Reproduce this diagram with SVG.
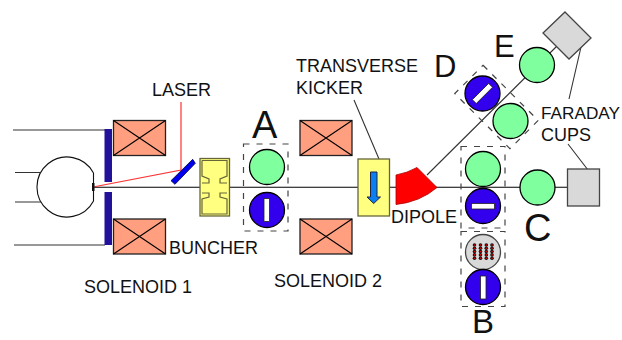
<svg xmlns="http://www.w3.org/2000/svg" width="622" height="340" viewBox="0 0 622 340">
<style>
text{font-family:"Liberation Sans",Arial,sans-serif;fill:#111}
.s{font-size:18px}
.f{font-size:17.200px}
.b{font-size:38px}
.m{font-size:31px}
.n{font-size:33px}
.l{fill:none;stroke:#000;stroke-width:1.1}
.gl{fill:none;stroke:#333;stroke-width:1.1}
.coil{fill:#ff9f80;stroke:#222;stroke-width:1.3}
.dash{fill:none;stroke:#444;stroke-width:1.2;stroke-dasharray:6 7}
.g{fill:#80ff9f;stroke:#000;stroke-width:1.3}
.v{fill:#3300ee;stroke:#000;stroke-width:1.3}
.w{fill:#fff;stroke:#222;stroke-width:.8}
.gr{fill:#d9d9d9;stroke:#444;stroke-width:1.3}
.y{fill:#ffff80;stroke:#66663a;stroke-width:1.3}
.p{fill:#221199}
.d{fill:#111}
.r{fill:#e00}
</style>
<defs>
<g id="cx"><rect class="coil" width="52" height="35"/><path class="l" d="M0 0L52 35M0 35L52 0"/></g>
<g id="h"><circle class="d" r="1.800"/><circle class="r" r=".8"/></g>
<g id="col"><use href="#h" y="0"/><use href="#h" y="3.300"/><use href="#h" y="6.600"/><use href="#h" y="9.900"/><use href="#h" y="13.200"/></g>
</defs>
<g id="connectors">
<path class="l" d="M93 187.300H567"/>
<path class="gl" d="M13 130H105M15 172.500H40M15 202H41M14 245H105"/>
<path class="gl" d="M427 175L557 46"/>
<path class="gl" d="M354 100L379 159M581 47L569 99M568 144L588 170"/>
<path d="M181 102V170L93 187" fill="none" stroke="#f33" stroke-width="1.200"/>
</g>
<g id="gun">
<path d="M93.500 173A30 30 0 1 0 93.500 201V173" fill="#fff" stroke="#111" stroke-width="1.100"/>
<rect x="92" y="183" width="2.500" height="8" fill="#111"/>
</g>
<g id="cathode"><rect class="p" x="104.500" y="129" width="7.500" height="53"/><rect class="p" x="104.500" y="192" width="7.500" height="53"/></g>
<g id="coil1"><use href="#cx" x="113.500" y="120.500"/></g>
<g id="coil2"><use href="#cx" x="113.500" y="219"/></g>
<g id="coil3"><use href="#cx" x="300" y="120.500"/></g>
<g id="coil4"><use href="#cx" x="300" y="219"/></g>
<g id="mirror"><path d="M171 180.700L192.700 159.300L195.300 163.300L175 184.300Z" fill="#00e" stroke="#003" stroke-width=".8"/></g>
<g id="buncher">
<rect class="y" x="200" y="158.500" width="29.500" height="57.500"/>
<path d="M202 160.500H227V176L220 179V183H227M227 193H220V197L227 199V214H202V199L209 197V193H202M202 183H209V179L202 176V160.500" fill="#ffff80" stroke="#66663a" stroke-width="1.200"/>
</g>
<g id="A"><rect class="dash" x="243.500" y="144" width="44.500" height="87"/><circle class="g" cx="267" cy="167" r="17.500"/><circle class="v" cx="267" cy="210" r="17.500"/><rect class="w" x="264" y="198.500" width="5.500" height="23"/></g>
<g id="kicker"><rect class="y" x="358" y="159" width="31.500" height="57"/><path d="M370.500 172H377V197H380.500L373.700 203.500L367 197H370.500Z" fill="#0a80f0" stroke="#224" stroke-width="1"/></g>
<g id="dipole"><path d="M396 175Q407 173 417 167.500L437 187.500Q420 202 396 204.500Z" fill="#f00" stroke="#a00" stroke-width=".8"/></g>
<g id="B"><rect class="dash" x="461" y="146.500" width="44" height="81.500"/><rect class="dash" x="461" y="231.500" width="44" height="75"/>
<circle class="g" cx="483" cy="169" r="17.500"/><circle class="v" cx="483" cy="206" r="17.500"/><rect class="w" x="471.500" y="203.500" width="23" height="5.500"/>
<circle class="gr" cx="483" cy="252" r="17.500"/>
<use href="#col" x="474.500" y="245"/><use href="#col" x="480.500" y="245"/><use href="#col" x="486.300" y="245"/><use href="#col" x="492" y="245"/>
<circle class="v" cx="483" cy="287" r="17.500"/><rect class="w" x="480.500" y="276" width="5.500" height="23"/></g>
<g id="C"><circle class="g" cx="537.500" cy="187.500" r="17.500"/></g>
<g id="D"><rect class="dash" transform="rotate(45 496.500 107)" x="457.500" y="87" width="78" height="40"/>
<circle class="v" cx="482.500" cy="93.500" r="17.500"/><rect class="w" transform="rotate(45 482.500 93.500)" x="479.700" y="82" width="5.500" height="23"/><circle class="g" cx="510.500" cy="121" r="17.500"/></g>
<g id="E"><circle class="g" cx="537" cy="65" r="17.500"/></g>
<g id="cups"><rect class="gr" x="567.500" y="169" width="32" height="37"/><path class="gr" d="M565 12L591 38L569 59L543 33Z"/></g>
<g id="labels">
<text class="s" x="152" y="96">LASER</text>
<text class="s" x="296" y="72">TRANSVERSE</text>
<text class="s" x="296" y="94">KICKER</text>
<text class="s" x="169" y="254">BUNCHER</text>
<text class="s" x="84" y="293">SOLENOID 1</text>
<text class="s" x="274" y="287">SOLENOID 2</text>
<text class="s" x="391" y="223">DIPOLE</text>
<text class="f" x="541" y="119">FARADAY</text>
<text class="s" x="541" y="141">CUPS</text>
<text class="b" x="252" y="138">A</text>
<text class="m" x="434" y="77">D</text>
<text class="m" x="494" y="56.500">E</text>
<text class="b" x="524" y="241">C</text>
<text class="n" x="472" y="332.500">B</text>
</g>
</svg>
